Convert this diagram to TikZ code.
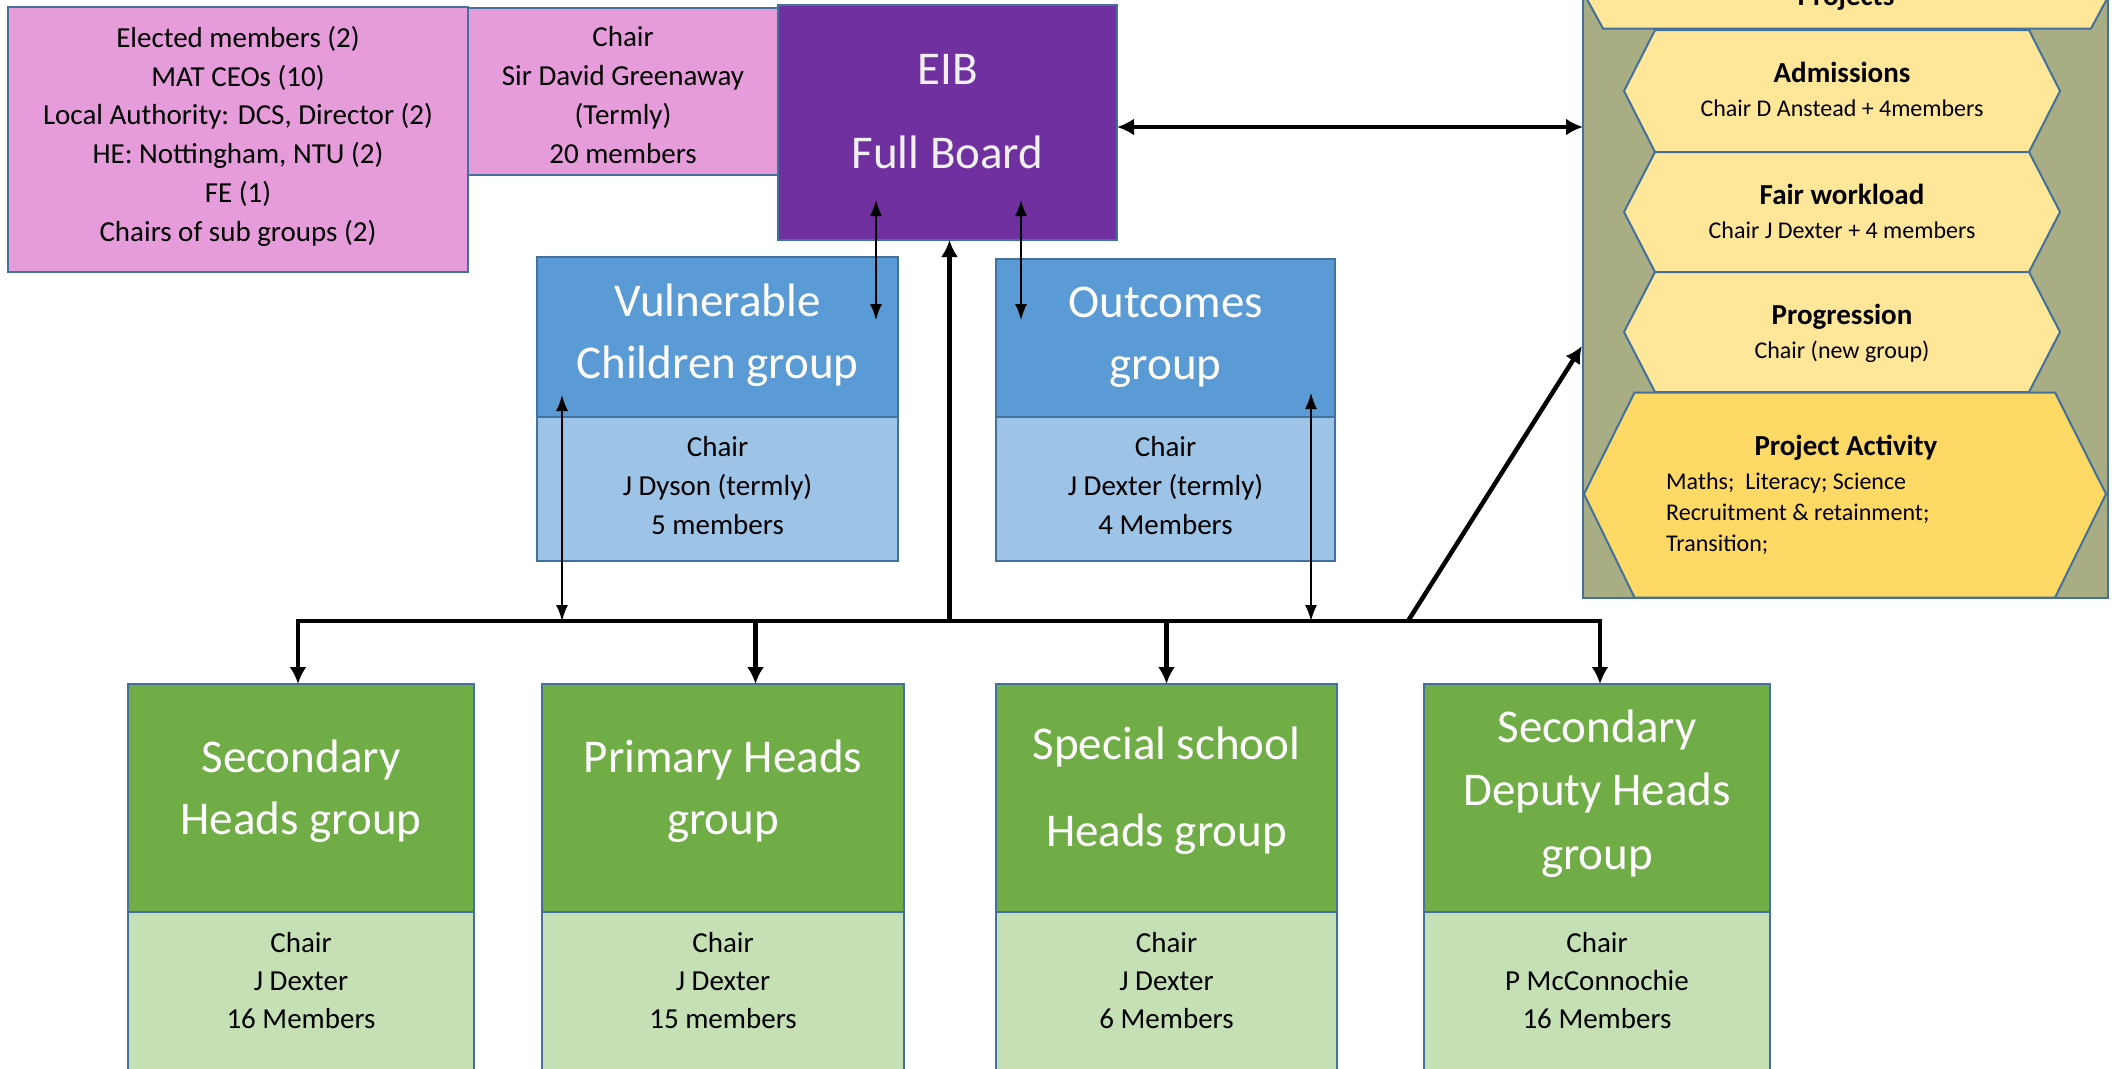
\documentclass[tikz,border=0pt]{standalone}
\usepackage{fontspec}
\setmainfont{Carlito}
\usetikzlibrary{arrows.meta}
\definecolor{bord}{HTML}{41719C}
\definecolor{pinkF}{HTML}{E69CDA}
\definecolor{eibF}{HTML}{7030A0}
\definecolor{blueF}{HTML}{5B9BD5}
\definecolor{lblueF}{HTML}{9DC3E6}
\definecolor{greenF}{HTML}{70AD47}
\definecolor{lgreenF}{HTML}{C5E0B4}
\definecolor{oliveF}{HTML}{A9AD84}
\definecolor{hexF}{HTML}{FFE699}
\definecolor{hexD}{HTML}{FFD966}
\begin{document}
\begin{tikzpicture}[x=1pt,y=-1pt,
  box/.style={draw=bord, line width=2pt, inner sep=0pt, outer sep=0pt},
  smalltxt/.style={font=\fontsize{29}{38.8}\selectfont, align=center, inner sep=0pt,
    execute at begin node=\strut, execute at end node=\strut},
  bigtxt/.style={font=\fontsize{47}{62}\selectfont, text=white, align=center, inner sep=0pt,
    execute at begin node=\strut, execute at end node=\strut},
  hexbox/.style={draw=bord, line width=2pt, line join=miter},
  htitle/.style={font=\fontsize{29}{35}\selectfont\bfseries, inner sep=0pt, anchor=base},
  hsub/.style={font=\fontsize{24}{31}\selectfont, inner sep=0pt, anchor=base},
  thk/.style={line width=4.5pt},
  tipK/.tip={Latex[length=17pt,width=17pt]},
  tipT/.tip={Latex[length=16pt,width=12pt]},
  thinA/.style={line width=1.5pt, tipT-tipT},
]
\useasboundingbox (0,0) rectangle (2116,1068);
\clip (0,0) rectangle (2116,1068);

% Projects panel
\node[box, fill=oliveF, minimum width=525pt, minimum height=648pt] (panel) at (1845.5,274) {};
\draw[hexbox, fill=hexF] (1603,28.5) -- (2091,28.5) -- (2108,-3) -- (2108,-50) -- (1583,-50) -- (1583,-8) -- cycle;
\node[htitle] (projT) at (1846,5.5) {Projects};
\draw[hexbox, fill=hexF] (1655,30) -- (2029,30) -- (2060,91) -- (2029,152) -- (1655,152) -- (1624,91) -- cycle;
\node[htitle] (admT) at (1842,82) {Admissions};
\node[hsub] (admS) at (1842,116.6) {Chair D Anstead + 4members};
\draw[hexbox, fill=hexF] (1655,152) -- (2029,152) -- (2060,212) -- (2029,272) -- (1655,272) -- (1624,212) -- cycle;
\node[htitle] (fwT) at (1842,204) {Fair workload};
\node[hsub] (fwS) at (1842,238) {Chair J Dexter + 4 members};
\draw[hexbox, fill=hexF] (1655,272) -- (2029,272) -- (2060,332) -- (2029,392) -- (1655,392) -- (1624,332) -- cycle;
\node[htitle] (prT) at (1842,324) {Progression};
\node[hsub] (prS) at (1842,358) {Chair (new group)};
\draw[hexbox, fill=hexD] (1634.5,392.5) -- (2055,392.5) -- (2106,494) -- (2055,597.5) -- (1634.5,597.5) -- (1584,494) -- cycle;
\node[htitle] (paT) at (1846,455.5) {Project Activity};
\node[font=\fontsize{24}{31}\selectfont, align=left, inner sep=0pt, anchor=west,
  execute at begin node=\strut, execute at end node=\strut] (paS) at (1666,517.3)
  {Maths;\ \ Literacy; Science\\Recruitment \& retainment;\\Transition;};

% Top boxes
\node[box, fill=pinkF, minimum width=460pt, minimum height=265pt] (mem) at (238,139.5) {};
\node[smalltxt] (memT) at (238,139.6) {Elected members (2)\\MAT CEOs (10)\\Local Authority: DCS, Director (2)\\HE: Nottingham, NTU (2)\\FE (1)\\Chairs of sub groups (2)};
\node[box, fill=pinkF, minimum width=310pt, minimum height=167pt] (chairP) at (623,91.5) {};
\node[smalltxt] (chairPT) at (623,100.7) {Chair\\Sir David Greenaway\\(Termly)\\20 members};
\node[box, fill=eibF, minimum width=339pt, minimum height=235pt] (eib) at (947.5,122.5) {};
\node[bigtxt, font=\fontsize{47}{84}\selectfont, text=white!94!black] (eibT) at (947.5,123.7) {EIB\\Full Board};

% Middle groups
\node[box, fill=blueF, minimum width=361pt, minimum height=160pt] (vulT) at (717.5,337) {};
\node[box, fill=lblueF, minimum width=361pt, minimum height=144pt] (vulB) at (717.5,489) {};
\node[bigtxt] (vulTT) at (717.5,340.4) {Vulnerable\\Children group};
\node[smalltxt] (vulBT) at (717.5,491) {Chair\\J Dyson (termly)\\5 members};
\node[box, fill=blueF, minimum width=339pt, minimum height=158pt] (outT) at (1165.5,338) {};
\node[box, fill=lblueF, minimum width=339pt, minimum height=144pt] (outB) at (1165.5,489) {};
\node[bigtxt] (outTT) at (1165.5,342.6) {Outcomes\\group};
\node[smalltxt] (outBT) at (1165.5,491) {Chair\\J Dexter (termly)\\4 Members};

% Bottom groups
\node[box, fill=greenF, minimum width=346pt, minimum height=228pt] (secT) at (301,798) {};
\node[box, fill=lgreenF, minimum width=346pt, minimum height=170pt] (secB) at (301,997) {};
\node[bigtxt] (secTT) at (301,796.8) {Secondary\\Heads group};
\node[smalltxt, font=\fontsize{29}{38}\selectfont] (secBT) at (301,986.4) {Chair\\J Dexter\\16 Members};
\node[box, fill=greenF, minimum width=362pt, minimum height=228pt] (priT) at (723,798) {};
\node[box, fill=lgreenF, minimum width=362pt, minimum height=170pt] (priB) at (723,997) {};
\node[bigtxt] (priTT) at (723,796.5) {Primary Heads\\group};
\node[smalltxt, font=\fontsize{29}{38}\selectfont] (priBT) at (723,986.4) {Chair\\J Dexter\\15 members};
\node[box, fill=greenF, minimum width=341pt, minimum height=228pt] (speT) at (1166.5,798) {};
\node[box, fill=lgreenF, minimum width=341pt, minimum height=170pt] (speB) at (1166.5,997) {};
\node[bigtxt, font=\fontsize{47}{87}\selectfont] (speTT) at (1166.5,800) {Special school\\Heads group};
\node[smalltxt, font=\fontsize{29}{38}\selectfont] (speBT) at (1166.5,986.4) {Chair\\J Dexter\\6 Members};
\node[box, fill=greenF, minimum width=346pt, minimum height=228pt] (depT) at (1597,798) {};
\node[box, fill=lgreenF, minimum width=346pt, minimum height=170pt] (depB) at (1597,997) {};
\node[bigtxt, font=\fontsize{47}{63.5}\selectfont] (depTT) at (1597,799) {Secondary\\Deputy Heads\\group};
\node[smalltxt, font=\fontsize{29}{38}\selectfont] (depBT) at (1597,986.4) {Chair\\P McConnochie\\16 Members};

% Connectors
\coordinate (busL) at (298,621);
\coordinate (busR) at (1600,621);
\coordinate (dPri) at (755.5,621);
\coordinate (dEib) at (949.5,621);
\coordinate (dDiag) at (1408,621);
\coordinate (diagE) at (1582,346);
\coordinate (epS) at (1117,127);
\coordinate (t1a) at (876,200);
\coordinate (t1b) at (876,320);
\coordinate (t2a) at (1021,200);
\coordinate (t2b) at (1021,320);
\coordinate (t3a) at (562,395);
\coordinate (t4a) at (1311,393);

\draw[thk, tipK-tipK] (busL |- secT.north) -- (busL) -- (busR) -- (busR |- depT.north);
\draw[thk, -tipK] (dPri) -- (dPri |- priT.north);
\draw[thk, -tipK] (speT.north |- busL) -- (speT.north);
\draw[thk, -tipK] (dEib) -- (dEib |- eib.south);
\draw[thk, -tipK] (dDiag) -- (diagE);
\draw[thk, tipK-tipK] (epS) -- (epS -| panel.west);

\draw[thinA] (t1a) -- (t1b);
\draw[thinA] (t2a) -- (t2b);
\draw[thinA] (t3a) -- (t3a |- busL);
\draw[thinA] (t4a) -- (t4a |- busL);
\end{tikzpicture}
\end{document}
